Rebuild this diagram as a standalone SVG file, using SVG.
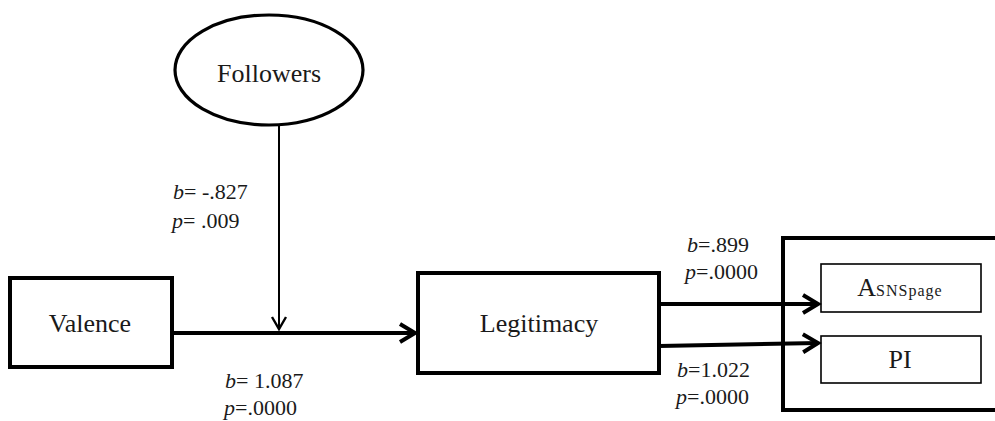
<svg xmlns="http://www.w3.org/2000/svg" width="995" height="421" viewBox="0 0 995 421">
  <style>
    .node { fill: #fff; stroke: #000; stroke-width: 4; }
    .thin { fill: #fff; stroke: #000; stroke-width: 1.6; }
    text { font-family: 'Liberation Serif', 'DejaVu Serif', serif; fill: #1a1a1a; }
    .lbl { font-size: 26px; }
    .coef { font-size: 22px; }
    .edge { fill: none; stroke: #000; stroke-width: 4; }
    .edge-thin { fill: none; stroke: #000; stroke-width: 2; }
  </style>
  <defs>
    <marker id="head" markerUnits="userSpaceOnUse" viewBox="-18 -11 20 22" refX="0" refY="0" markerWidth="20" markerHeight="22" orient="auto" overflow="visible">
      <path d="M-15,-9 L0,0 L-15,9" fill="none" stroke="#000" stroke-width="4" stroke-linejoin="miter"/>
    </marker>
    <marker id="head-thin" markerUnits="userSpaceOnUse" viewBox="-14 -8 16 16" refX="0" refY="0" markerWidth="16" markerHeight="16" orient="auto" overflow="visible">
      <path d="M-12,-7 L0,0 L-12,7" fill="none" stroke="#000" stroke-width="2.4"/>
    </marker>
  </defs>

  <rect width="995" height="421" fill="#fff"/>

  <!-- outcome frame (runs off the right edge) -->
  <g id="outcomes">
    <rect class="node" x="783" y="238" width="230" height="172"/>
  </g>

  <g id="followers">
    <ellipse cx="269" cy="70" rx="94" ry="55" fill="#fff" stroke="#000" stroke-width="3.2"/>
    <text class="lbl" x="269" y="82" text-anchor="middle" font-family="Liberation Serif, serif">Followers</text>
  </g>

  <g id="valence">
    <rect class="node" x="10" y="278" width="162" height="89"/>
    <text class="lbl" x="90" y="332" text-anchor="middle" font-family="Liberation Serif, serif">Valence</text>
  </g>

  <g id="legitimacy">
    <rect class="node" x="418" y="273" width="241" height="100"/>
    <text class="lbl" x="539" y="332" text-anchor="middle" font-family="Liberation Serif, serif">Legitimacy</text>
  </g>

  <g id="asnspage">
    <rect class="thin" x="821" y="264" width="160" height="48"/>
    <text class="lbl" x="900" y="296" text-anchor="middle" font-family="Liberation Serif, serif">A<tspan font-size="16" letter-spacing="1">SNSpage</tspan></text>
  </g>

  <g id="pi">
    <rect class="thin" x="821" y="336" width="160" height="47"/>
    <text class="lbl" x="900" y="368" text-anchor="middle" font-family="Liberation Serif, serif">PI</text>
  </g>

  <g id="connectors">
    <line class="edge" x1="172" y1="333" x2="415" y2="333" marker-end="url(#head)"/>
    <line class="edge-thin" x1="279" y1="124" x2="279" y2="329" marker-end="url(#head-thin)"/>
    <line class="edge" x1="659" y1="304" x2="818" y2="304" marker-end="url(#head)"/>
    <line class="edge" x1="659" y1="346" x2="818" y2="343" marker-end="url(#head)"/>
  </g>

  <g id="coefficients" font-family="Liberation Serif, serif">
    <text class="coef" x="173" y="199"><tspan font-style="italic">b</tspan>= -.827</text>
    <text class="coef" x="172" y="228"><tspan font-style="italic">p</tspan>= .009</text>
    <text class="coef" x="225" y="388"><tspan font-style="italic">b</tspan>= 1.087</text>
    <text class="coef" x="224" y="415"><tspan font-style="italic">p</tspan>=.0000</text>
    <text class="coef" x="687" y="252"><tspan font-style="italic">b</tspan>=.899</text>
    <text class="coef" x="685" y="279"><tspan font-style="italic">p</tspan>=.0000</text>
    <text class="coef" x="677" y="377"><tspan font-style="italic">b</tspan>=1.022</text>
    <text class="coef" x="676" y="404"><tspan font-style="italic">p</tspan>=.0000</text>
  </g>
</svg>
